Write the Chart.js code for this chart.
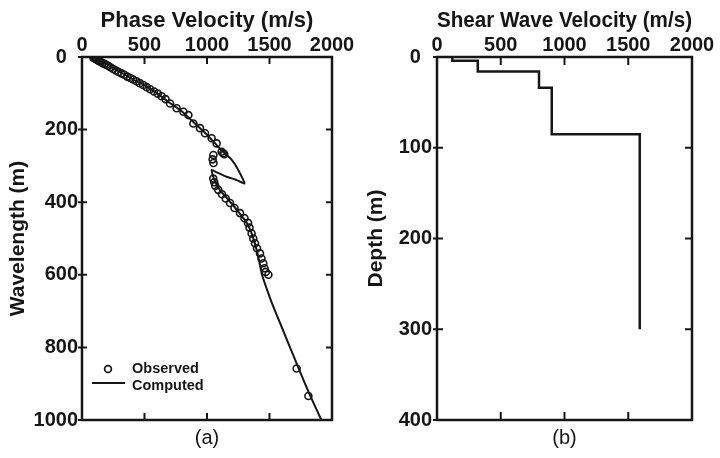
<!DOCTYPE html>
<html>
<head>
<meta charset="utf-8">
<script src="https://cdn.jsdelivr.net/npm/chart.js@4.4.0/dist/chart.umd.min.js"></script>
<style>
  html, body { margin: 0; padding: 0; background: #fff; }
  #wrap { position: relative; width: 720px; height: 458px; }
  canvas { position: absolute; top: 0; }
  #panelA { left: 0; }
  #panelB { left: 360px; }
</style>
</head>
<body>
<div id="wrap">
  <canvas id="panelA" width="360" height="458"></canvas>
  <canvas id="panelB" width="360" height="458"></canvas>
</div>
<script>
// panel (a): observed dispersion points
const obsVelocity = [90, 98, 106, 114, 122, 132, 142, 154, 166, 180, 195, 212, 230, 250, 270, 292, 315, 338, 362, 386,
  410, 436, 462, 490, 518, 546, 576, 606, 636, 668, 704, 757, 811, 851, 891, 944, 984, 1037, 1077, 1117,
  1130, 1138, 1051, 1045, 1052,
  1050, 1058, 1066, 1090, 1120, 1150, 1184, 1220, 1264, 1300, 1328, 1340, 1357, 1370, 1384, 1400, 1424, 1436,
  1450, 1460, 1470, 1491, 1717, 1811];
const obsWavelength = [1, 3, 4, 6, 8, 10, 12, 14, 17, 19, 22, 25, 29, 33, 37, 41, 45, 49, 54, 58,
  62, 67, 72, 77, 83, 89, 95, 101, 108, 116, 128, 141, 151, 160, 183, 196, 210, 224, 238, 261,
  265, 268, 270, 282, 292,
  335, 345, 355, 366, 378, 390, 402, 416, 430, 444, 457, 470, 486, 500, 513, 527, 541, 555,
  568, 582, 592, 600, 858, 934];

// panel (a): computed dispersion curve (in drawing order, includes the loop)
const compVelocity = [90, 130, 200, 300, 400, 500, 600, 700, 800, 900, 1000, 1060, 1110, 1150, 1195, 1240, 1300,
  1230, 1157, 1080, 1037, 1050, 1068, 1100, 1150, 1200, 1260, 1320, 1350, 1380, 1410, 1440, 1500,
  1545, 1605, 1664, 1724, 1784, 1848, 1915];
const compWavelength = [0, 6, 20, 40, 60, 78, 100, 126, 150, 182, 214, 236, 255, 268, 282, 305, 348,
  338, 330, 318, 311, 330, 345, 365, 385, 405, 430, 458, 480, 510, 550, 600, 660,
  700, 750, 800, 850, 900, 950, 1000];

// panel (b): layered shear wave velocity profile
const layerVs = [120, 320, 800, 900, 1590];
const layerTop = [0, 4, 16, 34, 85];
const profileBottom = 300;

const velocityTicks = [0, 500, 1000, 1500, 2000];
const wavelengthTicks = [0, 200, 400, 600, 800, 1000];
const depthTicks = [0, 100, 200, 300, 400];

const ink = '#161616';
const family = "'Liberation Sans', Arial, Helvetica, sans-serif";

Chart.defaults.font.family = family;
Chart.defaults.color = ink;

function toPoints(xs, ys) {
  return xs.map((x, i) => ({ x: x, y: ys[i] }));
}

function stepProfile() {
  const pts = [];
  layerVs.forEach((v, i) => {
    const bottom = i < layerVs.length - 1 ? layerTop[i + 1] : profileBottom;
    pts.push({ x: v, y: layerTop[i] });
    pts.push({ x: v, y: bottom });
  });
  return pts;
}

// box round the plot and the small tick marks
const framePlugin = {
  id: 'frame',
  afterDatasetsDraw(chart, args, opts) {
    const { ctx, chartArea: a, scales } = chart;
    const L = opts.tick || 7;
    ctx.save();
    ctx.strokeStyle = ink;
    ctx.lineWidth = 2;
    ctx.beginPath();
    scales.x.ticks.forEach(t => {
      const px = scales.x.getPixelForValue(t.value);
      ctx.moveTo(px, a.top); ctx.lineTo(px, a.top + L);
      ctx.moveTo(px, a.bottom); ctx.lineTo(px, a.bottom - L);
    });
    scales.y.ticks.forEach(t => {
      const py = scales.y.getPixelForValue(t.value);
      ctx.moveTo(a.left - 4, py); ctx.lineTo(a.left + L - 2, py);
      ctx.moveTo(a.right - L + 1, py); ctx.lineTo(a.right, py);
    });
    ctx.stroke();
    ctx.lineWidth = 2.5;
    ctx.strokeRect(a.left, a.top, a.right - a.left, a.bottom - a.top);
    ctx.restore();
  }
};

// small legend in the lower left of panel (a)
const keyPlugin = {
  id: 'key',
  afterDraw(chart, args, opts) {
    if (!opts.show) return;
    const { ctx, chartArea: a } = chart;
    const x = a.left + 26, y1 = a.bottom - 51, y2 = a.bottom - 34;
    const ds = chart.data.datasets;
    ctx.save();
    ctx.strokeStyle = ink;
    ctx.lineWidth = 1.7;
    ctx.beginPath();
    ctx.arc(x, y1, 3.4, 0, Math.PI * 2);
    ctx.stroke();
    ctx.lineWidth = 2;
    ctx.beginPath();
    ctx.moveTo(x - 16, y2 - 3); ctx.lineTo(x + 17, y2 - 3);
    ctx.stroke();
    ctx.fillStyle = ink;
    ctx.font = 'bold 14.5px ' + family;
    ctx.textBaseline = 'middle';
    ctx.fillText(ds[0].label, x + 24, y1);
    ctx.fillText(ds[1].label, x + 24, y2);
    ctx.restore();
  }
};

function axes(opt) {
  return {
    x: {
      type: 'linear', position: 'top', min: 0, max: 2000,
      afterBuildTicks: s => { s.ticks = velocityTicks.map(v => ({ value: v })); },
      afterFit: s => { s.height = 57; },
      grid: { display: false, drawTicks: false },
      border: { display: false },
      ticks: { padding: 0, font: { size: 20, weight: 'bold' }, color: ink, callback: v => String(v) },
      title: { display: true, text: opt.xTitle, padding: { top: 8, bottom: 0 }, font: { size: 22, weight: 'bold' }, color: ink }
    },
    x2: {
      type: 'linear', axis: 'x', position: 'bottom', min: 0, max: 2000,
      afterFit: s => { s.height = 38; },
      grid: { display: false, drawTicks: false },
      border: { display: false },
      ticks: { display: false },
      title: { display: true, text: opt.panel, padding: { top: 0, bottom: 8 }, font: { size: 20 }, color: ink }
    },
    y: {
      type: 'linear', position: 'left', reverse: true, min: 0, max: opt.yMax,
      afterBuildTicks: s => { s.ticks = opt.yTicks.map(v => ({ value: v })); },
      afterFit: s => { s.width = opt.yWidth; },
      grid: { display: false, drawTicks: false },
      border: { display: false },
      ticks: {
        padding: opt.yPad, font: { size: 20, weight: 'bold' }, color: ink,
        callback: v => v === 0 ? '0  ' : String(v)
      },
      title: { display: true, text: opt.yTitle, padding: { top: opt.yTitlePad, bottom: 0 }, font: { size: 21, weight: 'bold' }, color: ink }
    }
  };
}

new Chart(document.getElementById('panelA'), {
  type: 'scatter',
  data: {
    datasets: [{
      label: 'Observed',
      data: toPoints(obsVelocity, obsWavelength),
      showLine: false,
      pointRadius: 3.5,
      pointBorderWidth: 1.6,
      pointBorderColor: ink,
      pointBackgroundColor: 'rgba(0,0,0,0)'
    }, {
      label: 'Computed',
      data: toPoints(compVelocity, compWavelength),
      showLine: true,
      borderColor: ink,
      borderWidth: 2,
      pointRadius: 0,
      tension: 0.15
    }]
  },
  options: {
    responsive: false,
    animation: false,
    devicePixelRatio: 1,
    layout: { padding: { left: 0, right: 28, top: 0, bottom: 0 } },
    plugins: { legend: { display: false }, tooltip: { enabled: false }, frame: { tick: 7 }, key: { show: true } },
    scales: axes({ xTitle: 'Phase Velocity (m/s)', yTitle: 'Wavelength (m)', panel: '(a)',
      yMax: 1000, yTicks: wavelengthTicks, yWidth: 82, yPad: 4, yTitlePad: 6 })
  },
  plugins: [framePlugin, keyPlugin]
});

new Chart(document.getElementById('panelB'), {
  type: 'scatter',
  data: {
    datasets: [{
      label: 'Shear wave velocity',
      data: stepProfile(),
      showLine: true,
      borderColor: ink,
      borderWidth: 2.5,
      pointRadius: 0
    }]
  },
  options: {
    responsive: false,
    animation: false,
    devicePixelRatio: 1,
    layout: { padding: { left: 0, right: 28, top: 0, bottom: 0 } },
    plugins: { legend: { display: false }, tooltip: { enabled: false }, frame: { tick: 8 }, key: { show: false } },
    scales: axes({ xTitle: 'Shear Wave Velocity (m/s)', yTitle: 'Depth (m)', panel: '(b)',
      yMax: 400, yTicks: depthTicks, yWidth: 77, yPad: 5, yTitlePad: 4 })
  },
  plugins: [framePlugin, keyPlugin]
});
</script>
</body>
</html>
